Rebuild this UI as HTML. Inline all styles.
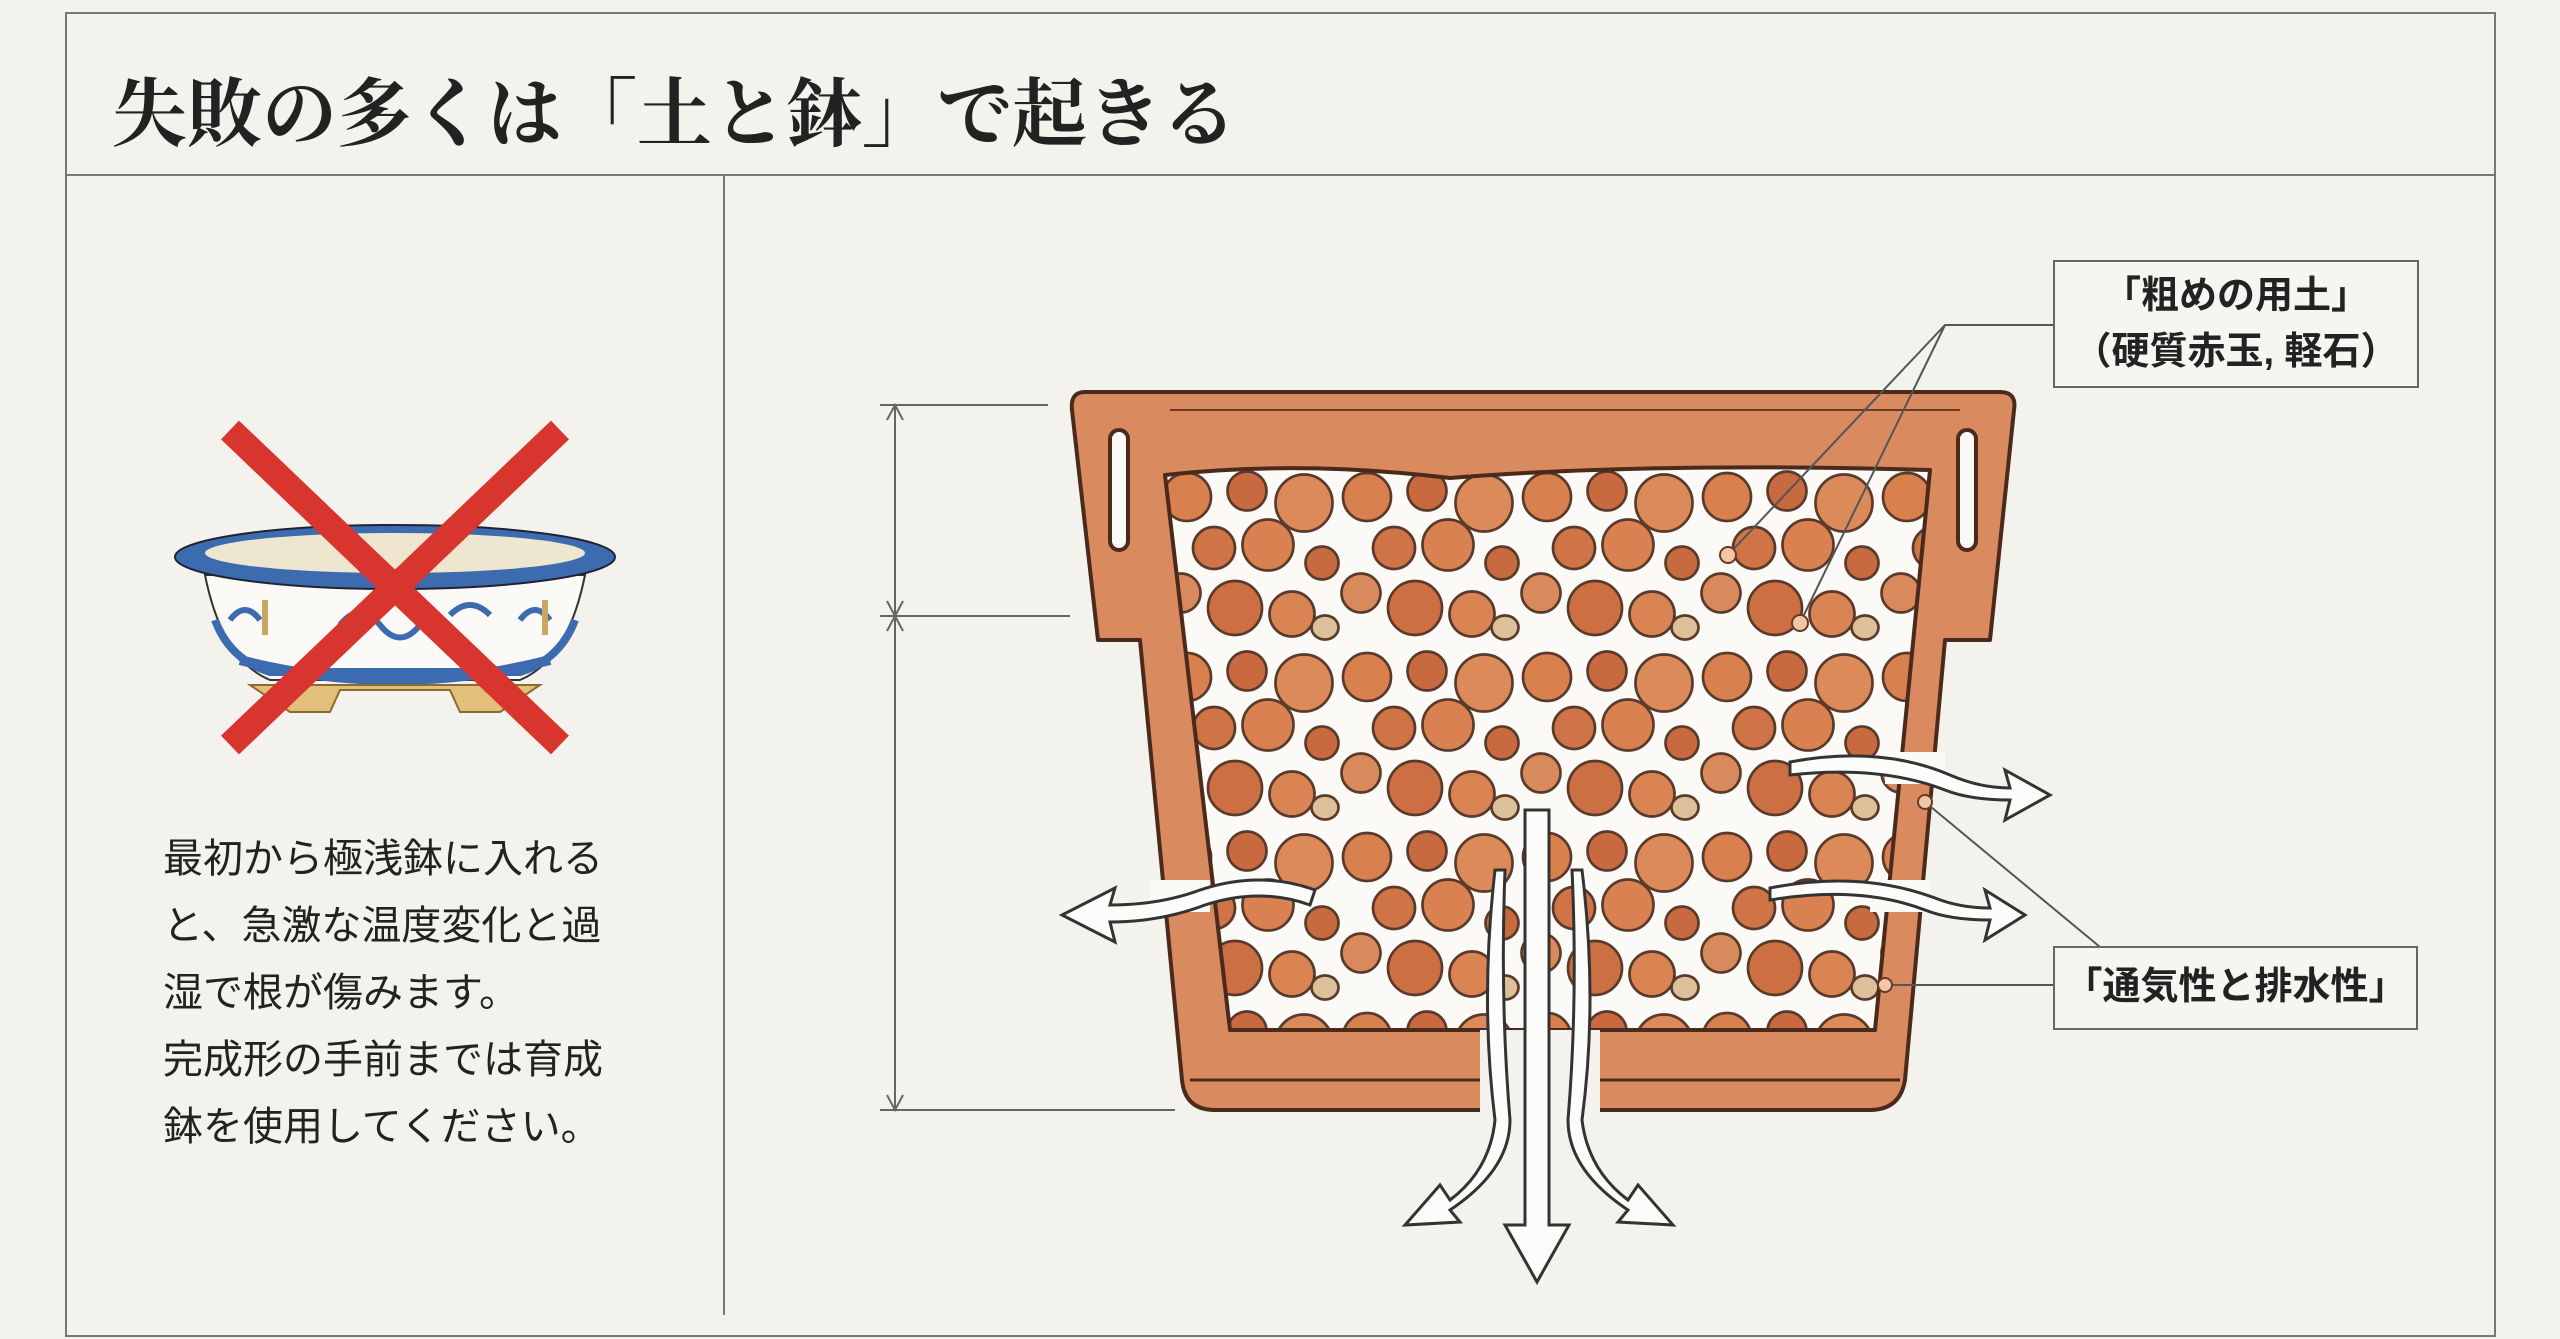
<!DOCTYPE html>
<html><head><meta charset="utf-8"><style>
html,body{margin:0;padding:0;background:#f3f2ed;}
body{width:2560px;height:1339px;overflow:hidden;position:relative;font-family:"Liberation Sans","Noto Sans CJK JP",sans-serif;color:#222;}
.t{position:absolute;white-space:nowrap;}
</style></head><body>
<svg width="2560" height="1339" viewBox="0 0 2560 1339" style="position:absolute;left:0;top:0">
<defs>
<pattern id="soil" x="0" y="0" width="120" height="120" patternUnits="userSpaceOnUse" patternTransform="translate(1160 470) scale(1.5)">
<rect width="120" height="120" fill="#fbfaf7"/>
<g stroke="#5a3a2a" stroke-width="1.8">
<circle cx="18" cy="18" r="16" fill="#d9804f"/>
<circle cx="58" cy="14" r="13" fill="#c9693f"/>
<circle cx="96" cy="22" r="19" fill="#dc8a5a"/>
<circle cx="36" cy="52" r="14" fill="#cf7446"/>
<circle cx="72" cy="50" r="17" fill="#d98150"/>
<circle cx="108" cy="62" r="11" fill="#c86a3f"/>
<circle cx="14" cy="82" r="13" fill="#d88a5c"/>
<circle cx="50" cy="92" r="18" fill="#cc6f42"/>
<circle cx="88" cy="96" r="15" fill="#da8454"/>
<ellipse cx="110" cy="105" rx="9" ry="8" fill="#dcc09a"/>
</g>
</pattern>
</defs>
<rect x="66" y="13" width="2429" height="1323" fill="none" stroke="#777" stroke-width="2"/>
<line x1="66" y1="175" x2="2495" y2="175" stroke="#777" stroke-width="2"/>
<line x1="724" y1="175" x2="724" y2="1315" stroke="#777" stroke-width="2"/>

<g>
<path d="M205 575 Q222 660 270 680 L520 680 Q568 660 585 575 Z" fill="#fbfaf6" stroke="#333" stroke-width="2"/>
<path d="M215 620 Q230 660 270 672 L520 672 Q560 660 575 620" fill="none" stroke="#3d6bb0" stroke-width="8"/>
<path d="M240 660 Q395 700 550 660" fill="none" stroke="#3d6bb0" stroke-width="10"/>
<path d="M250 685 L290 712 L330 712 L340 690 L450 690 L460 712 L500 712 L540 685 Z" fill="#e2c07a" stroke="#8a6a30" stroke-width="2"/>
<ellipse cx="395" cy="557" rx="220" ry="32" fill="#3d6bb0" stroke="#223" stroke-width="2"/>
<ellipse cx="395" cy="553" rx="190" ry="20" fill="#efe6cf"/>
<path d="M230 620 q15 -20 30 0 M340 625 q20 -25 40 0 q20 25 40 0 M450 615 q20 -20 40 0 M520 620 q15 -20 30 0" fill="none" stroke="#3d6bb0" stroke-width="6"/>
<path d="M265 600 v35 M545 600 v35" stroke="#c8a860" stroke-width="6"/>
<line x1="230" y1="430" x2="560" y2="745" stroke="#d8352f" stroke-width="26"/>
<line x1="560" y1="430" x2="230" y2="745" stroke="#d8352f" stroke-width="26"/>
</g>

<g stroke="#666" stroke-width="2">
<line x1="880" y1="405" x2="1048" y2="405"/>
<line x1="880" y1="616" x2="1070" y2="616"/>
<line x1="880" y1="1110" x2="1175" y2="1110"/>
<line x1="895" y1="405" x2="895" y2="1110"/>
<path d="M887 420 L895 405 L903 420 M887 601 L895 616 L903 601 M887 631 L895 616 L903 631 M887 1095 L895 1110 L903 1095" fill="none"/>
</g>

<g stroke="#4a2a1c" stroke-width="4" stroke-linejoin="round">
<path d="M1085 392 L2000 392 Q2017 392 2014 410 L1990 640 L1945 640 L1905 1080 Q1900 1110 1870 1110 L1215 1110 Q1185 1110 1182 1080 L1140 640 L1098 640 L1072 410 Q1070 392 1085 392 Z" fill="#d98a5e"/>
<path d="M1165 475 Q1300 460 1450 478 Q1650 462 1930 470 L1875 1030 L1230 1030 Z" fill="url(#soil)"/>
<rect x="1110" y="430" width="18" height="120" rx="9" fill="#fbfaf7"/>
<rect x="1958" y="430" width="18" height="120" rx="9" fill="#fbfaf7"/>
</g>
<line x1="1170" y1="410" x2="1960" y2="410" stroke="#6a3a24" stroke-width="2"/>
<rect x="1885" y="752" width="60" height="32" fill="#fbfaf7"/>
<rect x="1870" y="880" width="60" height="32" fill="#fbfaf7"/>
<rect x="1150" y="880" width="60" height="32" fill="#fbfaf7"/>
<line x1="1190" y1="1080" x2="1900" y2="1080" stroke="#4a2a1c" stroke-width="3"/>
<rect x="1480" y="1030" width="120" height="82" fill="#f3f2ed"/>

<g fill="#fcfcfa" stroke="#333" stroke-width="3" stroke-linejoin="miter">
<path d="M1525 810 L1525 1225 L1505 1225 L1537 1282 L1569 1225 L1549 1225 L1549 810 Z"/>
<path d="M1495 870 Q1480 1000 1495 1120 Q1490 1170 1450 1200 L1440 1185 L1405 1225 L1460 1222 L1450 1210 Q1510 1170 1510 1120 Q1500 1000 1505 870 Z"/>
<path d="M1582 870 Q1598 1000 1582 1120 Q1588 1170 1628 1200 L1638 1185 L1673 1225 L1618 1222 L1628 1210 Q1568 1170 1568 1120 Q1578 1000 1572 870 Z"/>
<path d="M1790 762 Q1880 745 1950 775 Q1980 788 2010 788 L2005 770 L2050 795 L2005 820 L2010 800 Q1970 800 1945 790 Q1880 765 1790 775 Z"/>
<path d="M1770 888 Q1860 870 1935 898 Q1960 908 1990 908 L1985 890 L2025 915 L1985 940 L1990 920 Q1950 920 1925 910 Q1860 885 1770 900 Z"/>
<path d="M1315 890 Q1260 870 1200 890 Q1160 905 1110 905 L1115 888 L1062 915 L1115 942 L1110 922 Q1160 922 1205 905 Q1260 887 1310 905 Z"/>
</g>

<g stroke="#555" stroke-width="2" fill="none">
<path d="M2054 325 L1945 325 L1728 555 M1945 325 L1800 623"/>
<path d="M1925 802 L2100 947"/>
<path d="M1885 985 L2054 985"/>
</g>
<g fill="#f1c7a8" stroke="#6a3a24" stroke-width="2">
<circle cx="1728" cy="555" r="8"/><circle cx="1800" cy="623" r="8"/>
<circle cx="1925" cy="802" r="7"/><circle cx="1885" cy="985" r="7"/>
</g>

<rect x="2054" y="261" width="364" height="126" fill="#f6f5f1" stroke="#666" stroke-width="2"/>
<rect x="2054" y="947" width="363" height="82" fill="#f6f5f1" stroke="#666" stroke-width="2"/>
</svg>

<div class="t" style="left:112px;top:55px;font-size:75px;font-family:'Liberation Serif','Noto Serif CJK SC',serif;font-weight:bold;">失敗の多くは「土と鉢」で起きる</div>

<div class="t" style="left:163px;top:826px;font-size:40px;line-height:67px;">最初から極浅鉢に入れる<br>と、急激な温度変化と過<br>湿で根が傷みます。<br>完成形の手前までは育成<br>鉢を使用してください。</div>

<div class="t" style="left:2054px;top:268px;width:364px;text-align:center;font-size:38px;line-height:56px;font-weight:bold;">「粗めの用土」<br>（硬質赤玉, 軽石）</div>
<div class="t" style="left:2054px;top:960px;width:363px;text-align:center;font-size:38px;line-height:54px;font-weight:bold;">「通気性と排水性」</div>
</body></html>
